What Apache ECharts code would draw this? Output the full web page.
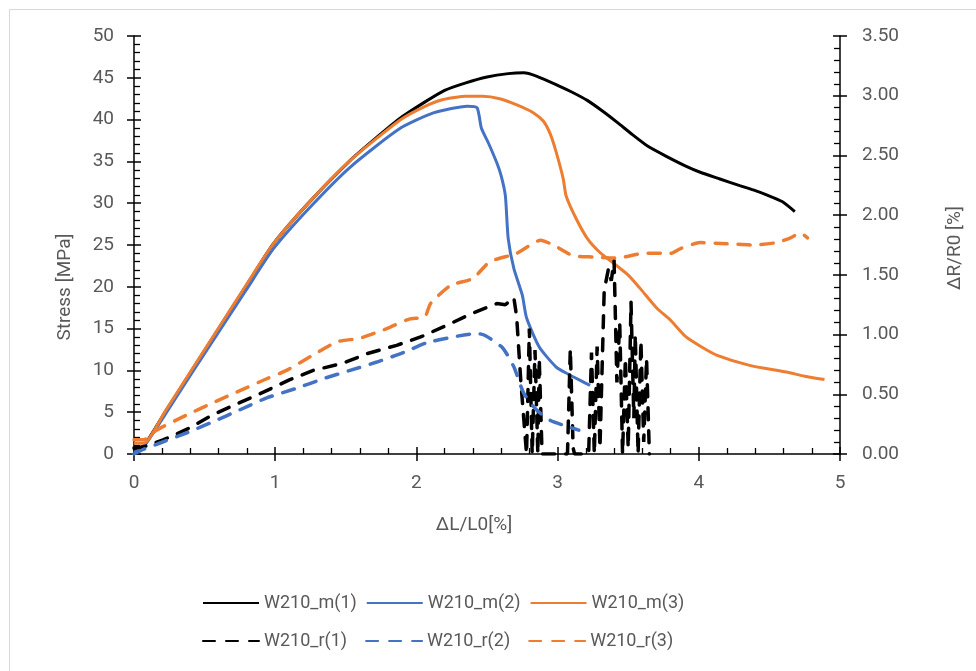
<!DOCTYPE html>
<html>
<head>
<meta charset="utf-8">
<script src="https://cdn.jsdelivr.net/npm/echarts@6/dist/echarts.min.js"></script>
<style>
  html, body { margin: 0; padding: 0; background: #fff; }
  #chart { width: 976px; height: 671px; }
</style>
</head>
<body>
<div id="chart"></div>
<script>
// stress curves (left axis) [strain %, stress MPa]
const m1 = [[0,0.5],[0.07,1.0],[0.22,5],[0.41,10],[0.60,15],[0.79,20],[0.985,25.1],[1.24,30.1],[1.53,35.1],
  [1.70,37.6],[1.88,40.1],[2.05,42],[2.20,43.5],[2.35,44.4],[2.50,45.1],[2.65,45.5],[2.76,45.6],[2.85,45.2],
  [3.00,44.1],[3.10,43.3],[3.21,42.3],[3.32,41.0],[3.42,39.7],[3.53,38.2],[3.64,36.8],[3.77,35.6],[3.90,34.5],
  [4.01,33.7],[4.15,32.9],[4.29,32.1],[4.40,31.5],[4.48,31.0],[4.59,30.2],[4.68,29.0]];
const m2 = [[0,0.2],[0.07,0.9],[0.22,4.7],[0.41,9.7],[0.60,14.6],[0.79,19.5],[0.985,24.5],[1.24,29.4],[1.53,34.3],
  [1.88,38.9],[2.12,40.8],[2.36,41.6],[2.43,41.4],[2.46,39.0],[2.51,37.2],[2.57,34.8],[2.60,33.3],[2.63,30.9],
  [2.65,25.8],[2.69,22.2],[2.75,19.0],[2.78,16.3],[2.87,12.8],[2.99,10.4],[3.07,9.6],[3.16,8.8],[3.23,8.2]];
const m3 = [[0,1.3],[0.07,1.3],[0.22,5.1],[0.41,10.1],[0.60,15.1],[0.79,20.1],[0.985,25.1],[1.24,30.1],[1.53,35.1],
  [1.88,39.9],[2.05,41.5],[2.19,42.4],[2.35,42.8],[2.47,42.8],[2.59,42.5],[2.72,41.7],[2.83,40.8],[2.90,39.8],
  [2.95,38.2],[2.99,36.1],[3.04,32.9],[3.06,30.9],[3.13,28.2],[3.21,25.8],[3.30,24.1],[3.39,22.9],[3.50,21.4],
  [3.58,19.9],[3.70,17.5],[3.80,16.0],[3.91,14.0],[4.02,12.8],[4.13,11.8],[4.36,10.6],[4.62,9.8],[4.75,9.3],[4.89,8.9]];

// resistance change curves (right axis) [strain %, dR/R0 %]
const r1 = [[0,0.05],[0.07,0.06],[0.21,0.12],[0.38,0.21],[0.56,0.33],[0.73,0.42],[0.92,0.52],[1.10,0.62],
  [1.27,0.70],[1.48,0.76],[1.65,0.84],[1.86,0.91],[2.03,0.98],[2.22,1.08],[2.40,1.18],[2.57,1.26],[2.63,1.25],
  [2.69,1.31],[2.71,1.15],[2.74,0.60],[2.78,0.0],[2.80,1.05],[2.82,0.0],[2.84,0.87],[2.86,0.0],[2.87,0.80],
  [2.89,0.0],[3.07,0.0],[3.09,0.88],[3.11,0.05],[3.12,0.0],[3.22,0.0],[3.24,0.85],[3.26,0.0],[3.28,0.90],
  [3.30,0.05],[3.33,1.37],[3.36,1.55],[3.38,1.45],[3.40,1.62],[3.42,0.60],[3.44,1.10],[3.46,0.0],[3.48,0.80],
  [3.50,0.05],[3.52,1.27],[3.54,0.30],[3.55,1.00],[3.57,0.0],[3.59,0.95],[3.61,0.10],[3.63,0.80],[3.65,0.0]];
const r2 = [[0,0.0],[0.07,0.04],[0.18,0.09],[0.38,0.18],[0.56,0.27],[0.75,0.37],[0.94,0.47],[1.15,0.55],
  [1.34,0.63],[1.53,0.70],[1.72,0.77],[1.91,0.85],[2.07,0.93],[2.26,0.98],[2.43,1.01],[2.49,0.99],[2.61,0.89],
  [2.69,0.73],[2.76,0.51],[2.85,0.37],[2.95,0.28],[3.07,0.23],[3.15,0.20]];
const r3 = [[0,0.12],[0.07,0.12],[0.16,0.20],[0.38,0.33],[0.56,0.43],[0.75,0.53],[0.94,0.63],[1.08,0.70],
  [1.27,0.83],[1.44,0.94],[1.60,0.97],[1.79,1.05],[1.95,1.13],[2.06,1.15],[2.10,1.26],[2.24,1.41],[2.40,1.47],
  [2.52,1.61],[2.71,1.68],[2.88,1.79],[2.97,1.75],[3.11,1.66],[3.25,1.65],[3.42,1.64],[3.61,1.68],[3.80,1.68],
  [3.87,1.72],[4.01,1.77],[4.20,1.76],[4.39,1.75],[4.55,1.77],[4.65,1.81],[4.72,1.85],[4.77,1.81]];

const namesM = ['W210_m(1)', 'W210_m(2)', 'W210_m(3)'];
const namesR = ['W210_r(1)', 'W210_r(2)', 'W210_r(3)'];
const colors = ['#000000', '#4472C4', '#ED7D31'];

const FONT = 'Roboto';
const labelColor = '#595959';
const axisColor = '#000';

let chart = echarts.init(document.getElementById('chart'), null, { renderer: 'canvas' });

// main axis: line, labels, inside ticks + minor ticks
function mainAxis(extra) {
    return Object.assign({
        type: 'value',
        splitLine: { show: false },
        axisLine: { show: true, onZero: false, lineStyle: { color: axisColor, width: 1.5 } },
        axisTick: { show: true, inside: true, length: 7, lineStyle: { color: axisColor, width: 1.5 } },
        minorTick: { show: true, splitNumber: 5, length: 6, lineStyle: { color: axisColor, width: 1.3 } },
        axisLabel: { color: labelColor, fontFamily: FONT, fontSize: 19 }
    }, extra);
}
// overlay axis: only outward major ticks, so major ticks cross the line
function tickAxis(extra) {
    return Object.assign({
        type: 'value',
        splitLine: { show: false },
        axisLine: { show: false, onZero: false },
        axisTick: { show: true, inside: false, length: 7, lineStyle: { color: axisColor, width: 1.5 } },
        minorTick: { show: false },
        axisLabel: { show: false }
    }, extra);
}

function mk(name, data, yIdx, color, dashed, smooth) {
    return {
        name: name,
        type: 'line',
        data: data,
        xAxisIndex: 0,
        yAxisIndex: yIdx,
        symbol: 'none',
        smooth: smooth ? 0.2 : false,
        lineStyle: dashed
            ? { color: color, width: 3.5, type: [12, 11], cap: 'round' }
            : { color: color, width: 3 },
        itemStyle: { color: color },
        animation: false
    };
}

const legendBase = {
    itemWidth: 56, itemHeight: 14,
    itemStyle: { opacity: 0 },
    textStyle: { color: labelColor, fontFamily: FONT, fontSize: 18 }
};

const option = {
    backgroundColor: '#fff',
    animation: false,
    grid: { left: 134, right: 136, top: 36, bottom: 217, containLabel: false },
    xAxis: [
        mainAxis({ position: 'bottom', min: 0, max: 5, interval: 1,
            axisLabel: { color: labelColor, fontFamily: FONT, fontSize: 19, margin: 20 } }),
        tickAxis({ position: 'bottom', min: 0, max: 5, interval: 1 })
    ],
    yAxis: [
        mainAxis({ position: 'left', min: 0, max: 50, interval: 5,
            axisLabel: { color: labelColor, fontFamily: FONT, fontSize: 19, margin: 20 } }),
        mainAxis({ position: 'right', min: 0, max: 3.5, interval: 0.5,
            axisLabel: { color: labelColor, fontFamily: FONT, fontSize: 19, margin: 22,
                formatter: v => v.toFixed(2) } }),
        tickAxis({ position: 'left', min: 0, max: 50, interval: 5 }),
        tickAxis({ position: 'right', min: 0, max: 3.5, interval: 0.5 })
    ],
    legend: [
        Object.assign({ data: namesM, left: 197, top: 589, itemGap: 9 }, legendBase),
        Object.assign({ data: namesR, left: 197, top: 627, itemGap: 18 }, legendBase)
    ],
    graphic: [
        { type: 'rect', left: 7, top: 7, silent: true,
          shape: { width: 1000, height: 700 }, style: { fill: 'none', stroke: '#d9d9d9', lineWidth: 1 } },
        { type: 'text', x: 65, y: 287, rotation: Math.PI / 2,
          style: { text: 'Stress [MPa]', fill: labelColor, font: '19px ' + FONT, align: 'center', verticalAlign: 'middle' } },
        { type: 'text', x: 955, y: 248, rotation: Math.PI / 2,
          style: { text: 'ΔR/R0 [%]', fill: labelColor, font: '19px ' + FONT, align: 'center', verticalAlign: 'middle' } },
        { type: 'text', x: 474, y: 525,
          style: { text: 'ΔL/L0[%]', fill: labelColor, font: '19px ' + FONT, align: 'center', verticalAlign: 'middle' } }
    ],
    series: [
        mk(namesM[0], m1, 0, colors[0], false, true),
        mk(namesM[1], m2, 0, colors[1], false, true),
        mk(namesM[2], m3, 0, colors[2], false, true),
        mk(namesR[0], r1, 1, colors[0], true, false),
        mk(namesR[1], r2, 1, colors[1], true, true),
        mk(namesR[2], r3, 1, colors[2], true, true)
    ]
};

chart.setOption(option);
</script>
</body>
</html>
